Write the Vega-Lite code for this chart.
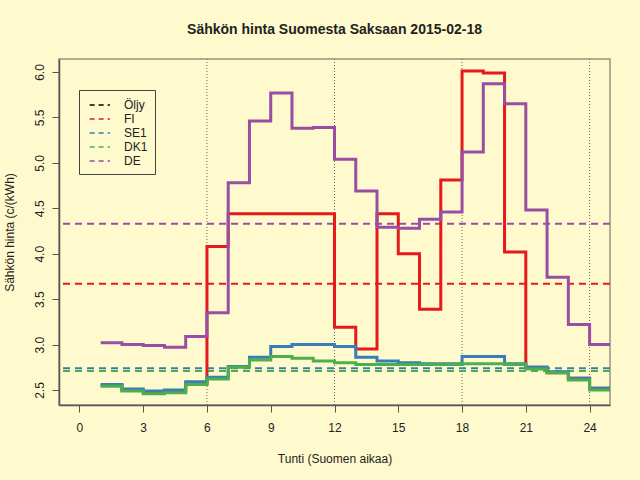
{
  "$schema": "https://vega.github.io/schema/vega-lite/v6.json",
  "autosize": "none",
  "width": 551,
  "height": 346,
  "padding": {"left": 59, "top": 59, "right": 30, "bottom": 75},
  "background": "#FFFACD",
  "title": {"text": "Sähkön hinta Suomesta Saksaan 2015-02-18", "fontSize": 14, "fontWeight": "bold", "color": "#222222", "offset": 22, "anchor": "middle"},
  "config": {
    "font": "Liberation Sans",
    "view": {"stroke": "#9a9480", "strokeWidth": 1.5},
    "axis": {"grid": false, "domainColor": "#555555", "tickColor": "#555555", "labelColor": "#222222", "titleColor": "#222222", "labelFontSize": 12, "titleFontSize": 12, "titleFontWeight": "normal", "tickSize": 7, "domainWidth": 1.5}
  },
  "datasets": {
    "hours": [
      {"h": 1, "FI": 2.55, "SE1": 2.56, "DK1": 2.54, "DE": 3.02},
      {"h": 2, "FI": 2.50, "SE1": 2.51, "DK1": 2.49, "DE": 3.00},
      {"h": 3, "FI": 2.48, "SE1": 2.49, "DK1": 2.46, "DE": 2.99},
      {"h": 4, "FI": 2.49, "SE1": 2.50, "DK1": 2.47, "DE": 2.97},
      {"h": 5, "FI": 2.57, "SE1": 2.59, "DK1": 2.56, "DE": 3.09},
      {"h": 6, "FI": 4.08, "SE1": 2.64, "DK1": 2.62, "DE": 3.35},
      {"h": 7, "FI": 4.44, "SE1": 2.76, "DK1": 2.75, "DE": 4.78},
      {"h": 8, "FI": 4.44, "SE1": 2.86, "DK1": 2.83, "DE": 5.46},
      {"h": 9, "FI": 4.44, "SE1": 2.98, "DK1": 2.87, "DE": 5.77},
      {"h": 10, "FI": 4.44, "SE1": 3.00, "DK1": 2.85, "DE": 5.38},
      {"h": 11, "FI": 4.44, "SE1": 3.00, "DK1": 2.82, "DE": 5.39},
      {"h": 12, "FI": 3.19, "SE1": 2.98, "DK1": 2.80, "DE": 5.04},
      {"h": 13, "FI": 2.95, "SE1": 2.86, "DK1": 2.78, "DE": 4.69},
      {"h": 14, "FI": 4.44, "SE1": 2.82, "DK1": 2.78, "DE": 4.29},
      {"h": 15, "FI": 4.00, "SE1": 2.80, "DK1": 2.78, "DE": 4.28},
      {"h": 16, "FI": 3.39, "SE1": 2.79, "DK1": 2.78, "DE": 4.38},
      {"h": 17, "FI": 4.81, "SE1": 2.79, "DK1": 2.78, "DE": 4.46},
      {"h": 18, "FI": 6.01, "SE1": 2.87, "DK1": 2.79, "DE": 5.12},
      {"h": 19, "FI": 5.99, "SE1": 2.87, "DK1": 2.79, "DE": 5.87},
      {"h": 20, "FI": 4.02, "SE1": 2.79, "DK1": 2.78, "DE": 5.65},
      {"h": 21, "FI": 2.75, "SE1": 2.75, "DK1": 2.73, "DE": 4.48},
      {"h": 22, "FI": 2.69, "SE1": 2.70, "DK1": 2.69, "DE": 3.74},
      {"h": 23, "FI": 2.63, "SE1": 2.63, "DK1": 2.61, "DE": 3.22},
      {"h": 24, "FI": 2.52, "SE1": 2.52, "DK1": 2.50, "DE": 3.00},
      {"h": 25, "FI": 2.52, "SE1": 2.52, "DK1": 2.50, "DE": 3.00}
    ],
    "averages": [
      {"s": "FI", "v": 3.67},
      {"s": "SE1", "v": 2.74},
      {"s": "DK1", "v": 2.71},
      {"s": "DE", "v": 4.33}
    ],
    "marks": [{"h": 6}, {"h": 12}, {"h": 18}, {"h": 24}]
  },
  "layer": [
    {
      "data": {"name": "marks"},
      "mark": {"type": "rule", "color": "#666666", "strokeWidth": 1, "strokeDash": [1, 2]},
      "encoding": {
        "x": {"field": "h", "type": "quantitative", "scale": {"domain": [-0.96, 24.96], "nice": false, "zero": false},
          "axis": {"values": [0, 3, 6, 9, 12, 15, 18, 21, 24], "title": "Tunti (Suomen aikaa)", "labelPadding": 10, "titlePadding": 20}}
      }
    },
    {
      "data": {"name": "averages"},
      "mark": {"type": "rule", "strokeWidth": 2, "strokeOpacity": 1, "strokeCap": "butt", "strokeDash": [7, 5]},
      "encoding": {
        "y": {"field": "v", "type": "quantitative"},
        "color": {"field": "s", "type": "nominal"}
      }
    },
    {
      "data": {"name": "hours"},
      "transform": [{"fold": ["FI", "SE1", "DK1", "DE"], "as": ["s", "v"]}],
      "mark": {"type": "line", "interpolate": "step-after", "strokeWidth": 3, "clip": true},
      "encoding": {
        "x": {"field": "h", "type": "quantitative"},
        "y": {"field": "v", "type": "quantitative", "scale": {"domain": [2.335, 6.143], "nice": false, "zero": false},
          "axis": {"values": [2.5, 3, 3.5, 4, 4.5, 5, 5.5, 6], "format": ".1f", "labelAngle": 270, "labelAlign": "center", "labelBaseline": "bottom", "labelPadding": 6, "title": "Sähkön hinta (c/(kWh)", "titlePadding": 17}},
        "color": {"field": "s", "type": "nominal",
          "scale": {"domain": ["Öljy", "FI", "SE1", "DK1", "DE"], "range": ["#000000", "#E41A1C", "#377EB8", "#4DAF4A", "#984EA3"]},
          "legend": {"title": null, "orient": "none", "legendX": 20, "legendY": 31, "symbolType": "M-0.6,0H2.2", "symbolSize": 210, "symbolStrokeWidth": 1.5, "symbolDash": [5, 4], "labelFontSize": 12, "labelColor": "#222222", "labelOffset": 22, "rowPadding": 0, "padding": 7, "strokeColor": "#444444", "cornerRadius": 0}}
      }
    }
  ]
}
